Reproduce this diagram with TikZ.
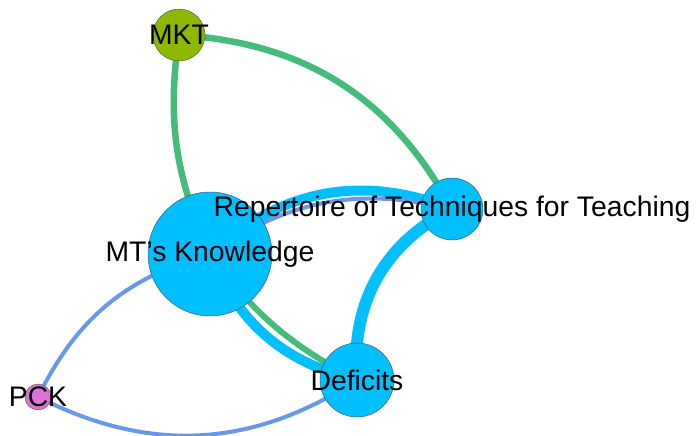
\documentclass[tikz,border=0pt]{standalone}
\usepackage{fontspec}
\setmainfont{Liberation Sans}
\usepackage{tikz}
\usetikzlibrary{backgrounds}

\definecolor{topicblue}{RGB}{0,191,255}
\definecolor{mktgreen}{RGB}{140,184,0}
\definecolor{pckpink}{RGB}{218,116,214}
\definecolor{linkgreen}{RGB}{70,188,124}
\definecolor{linkblue}{RGB}{104,152,232}

\begin{document}
\begin{tikzpicture}[x=1pt, y=-1pt,
    topic/.style={circle, draw=black!70, line width=0.4pt, inner sep=0pt, fill=topicblue},
    lbl/.style={font=\fontsize{28.3}{30}\selectfont, inner sep=0pt},
    greenlink/.style={draw=linkgreen, line width=6.5pt},
    bluelink/.style={draw=linkblue, line width=4pt},
    heavylink/.style={draw=topicblue, line width=10pt}]

  \useasboundingbox (0,0) rectangle (697,436);

  % Define nodes
  \node[topic, minimum size=124pt, label={[lbl]center:MT's Knowledge}] (mtk) at (210,254) {};
  \node[topic, minimum size=52pt, fill=mktgreen, label={[lbl]center:MKT}] (mkt) at (179,35) {};
  \node[topic, minimum size=62pt, label={[lbl]center:Repertoire of Techniques for Teaching}] (rep) at (452,209) {};
  \node[topic, minimum size=74pt, label={[lbl]center:Deficits}] (def) at (357,380) {};
  \node[topic, minimum size=26pt, fill=pckpink, label={[lbl]center:PCK}] (pck) at (38,397) {};

  % Links
  \begin{pgfonlayer}{background}
    \draw[greenlink] (mkt.center) to[bend right=16] (mtk.center);
    \draw[greenlink] (mkt.center) to[bend left=29] (rep.center);
    \draw[heavylink] (mtk.center) to[bend left=32] (rep.center);
    \draw[bluelink]  (mtk.center) to[bend left=24] (rep.center);
    \draw[heavylink] (mtk.center) to[bend right=27] (def.center);
    \draw[greenlink, line width=6pt] (mtk.center) to[bend right=13] (def.center);
    \draw[heavylink, line width=12pt] (rep.center) to[bend right=34] (def.center);
    \draw[bluelink]  (pck.center) to[bend left=24] (mtk.center);
    \draw[bluelink]  (pck.center) to[bend right=30] (def.center);
  \end{pgfonlayer}

\end{tikzpicture}
\end{document}
